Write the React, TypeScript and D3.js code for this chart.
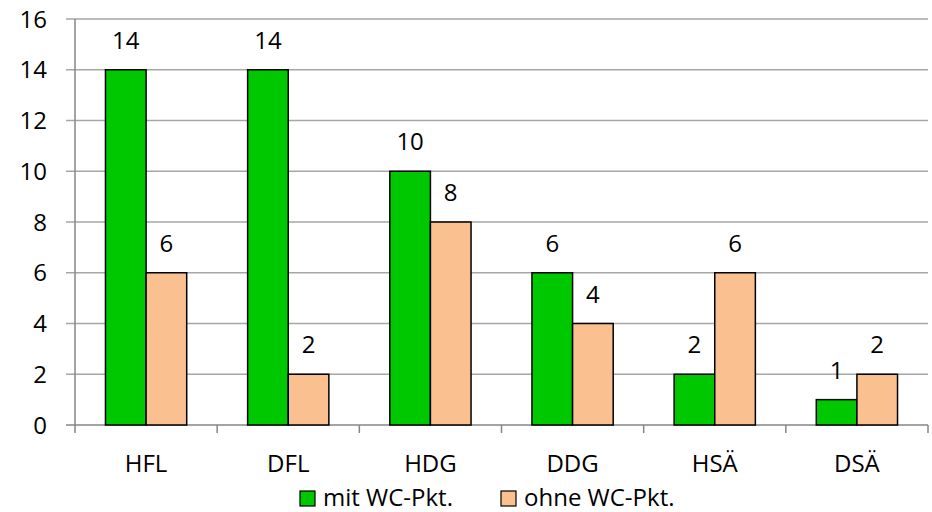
import * as d3 from "d3";

const categories = ["HFL", "DFL", "HDG", "DDG", "HSÄ", "DSÄ"];
const seriesNames = ["mit WC-Pkt.", "ohne WC-Pkt."];
const mitValues = [14, 14, 10, 6, 2, 1];
const ohneValues = [6, 2, 8, 4, 6, 2];
const yTicks = [0, 2, 4, 6, 8, 10, 12, 14, 16];

const colors = ["#00c800", "#fac090"];
const font = "'Open Sans', 'DejaVu Sans', sans-serif";

export default function App() {
    const width = 932;
    const height = 512;
    const left = 75;
    const right = 928;
    const top = 19;
    const bottom = 425;

    const x = d3.scaleBand<string>().domain(categories).range([left, right]);
    // Excel-style gap width of 75% on each side of the pair
    const inner = d3
        .scaleBand<number>()
        .domain([0, 1])
        .range([0, x.bandwidth()])
        .paddingOuter(0.75)
        .paddingInner(0);
    const y = d3.scaleLinear().domain([0, 16]).range([bottom, top]);

    const series = [mitValues, ohneValues];

    return (
        <svg
            width={width}
            height={height}
            style={{ position: "absolute", left: 0, top: 0, background: "#fff" }}
            fontFamily={font}
        >
            {yTicks.map((t) => (
                <g key={t}>
                    <line
                        x1={left - 9}
                        x2={right}
                        y1={y(t)}
                        y2={y(t)}
                        stroke={t === 0 ? "#868686" : "#a6a6a6"}
                        strokeWidth={1.5}
                    />
                    <text x={47} y={y(t)} dy="0.36em" textAnchor="end" fontSize={24}>
                        {t}
                    </text>
                </g>
            ))}
            <line x1={left} x2={left} y1={top} y2={bottom} stroke="#868686" strokeWidth={1.5} />
            {categories.map((c) => (
                <line
                    key={c}
                    x1={x(c) ?? 0}
                    x2={x(c) ?? 0}
                    y1={bottom}
                    y2={bottom + 8}
                    stroke="#868686"
                    strokeWidth={1.5}
                />
            ))}
            <line x1={right} x2={right} y1={bottom} y2={bottom + 8} stroke="#868686" strokeWidth={1.5} />
            {series.map((vals, s) =>
                vals.map((v, i) => {
                    const bx = (x(categories[i]) ?? 0) + (inner(s) ?? 0);
                    return (
                        <g key={`${s}-${i}`}>
                            <rect
                                x={bx}
                                y={y(v)}
                                width={inner.bandwidth()}
                                height={bottom - y(v)}
                                fill={colors[s]}
                                stroke="#000"
                                strokeWidth={1.5}
                            />
                            <text
                                x={bx + inner.bandwidth() / 2}
                                y={y(v) - 21}
                                textAnchor="middle"
                                fontSize={24}
                            >
                                {v}
                            </text>
                        </g>
                    );
                })
            )}
            {categories.map((c) => (
                <text
                    key={c}
                    x={(x(c) ?? 0) + x.bandwidth() / 2}
                    y={472}
                    textAnchor="middle"
                    fontSize={24}
                >
                    {c}
                </text>
            ))}
            {seriesNames.map((n, s) => {
                const lx = s === 0 ? 300 : 501;
                return (
                    <g key={n}>
                        <rect x={lx} y={491} width={15} height={15} fill={colors[s]} stroke="#000" strokeWidth={1.2} />
                        <text x={lx + 23} y={506} fontSize={24}>
                            {n}
                        </text>
                    </g>
                );
            })}
        </svg>
    );
}
